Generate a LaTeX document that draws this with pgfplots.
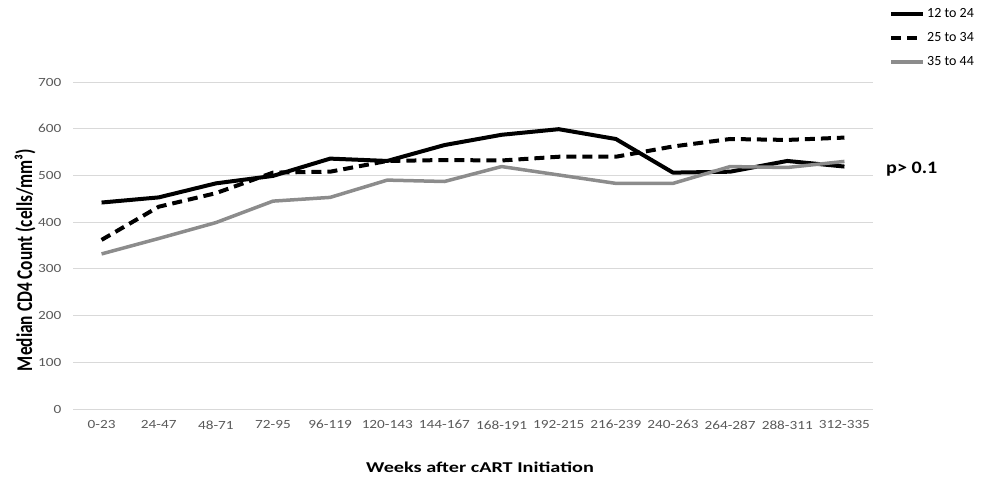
\documentclass[border=0pt]{standalone}
\usepackage{fontspec}
\setmainfont{Carlito}
\usepackage{graphicx}
\usepackage{pgfplots}
\pgfplotsset{compat=1.18}
\definecolor{tickgray}{HTML}{595959}
\definecolor{gridgray}{HTML}{D9D9D9}
\definecolor{linegray}{HTML}{8C8C8C}
\begin{document}
\begin{tikzpicture}[x=1pt,y=1pt]
\path[use as bounding box] (0,0) rectangle (984,477);
\begin{axis}[
  at={(73pt,68pt)}, anchor=south west,
  scale only axis, width=800pt, height=327pt,
  xmin=-0.5, xmax=13.5, ymin=0, ymax=700,
  xtick={0,...,13},
  xticklabels={0-23,24-47,48-71,72-95,96-119,120-143,144-167,168-191,192-215,216-239,240-263,264-287,288-311,312-335},
  ytick={0,100,...,700},
  axis line style={draw=none},
  major tick length=0pt,
  ymajorgrids, grid style={gridgray, line width=1pt},
  /pgf/number format/assume math mode=true,
  tick label style={font=\fontsize{12.5}{14}\selectfont, text=tickgray, xscale=1.22},
  xticklabel style={yshift=-8pt},
  yticklabel style={xshift=-6pt},
  xlabel={\bfseries Weeks after cART Initiation},
  xlabel style={at={(axis description cs:0.5,0)}, anchor=center, yshift=-58pt, xshift=7pt, font=\fontsize{15}{17}\selectfont, xscale=1.35},
  legend style={draw=none, fill=none, inner sep=0pt, at={(axis description cs:1.02,1.232)}, anchor=north west,
    font=\fontsize{14}{16}\selectfont, row sep=9.5pt, cells={anchor=west}},
  legend cell align=left,
  legend image code/.code={\draw[#1] (0pt,0pt) -- (32pt,0pt);},
  every axis plot/.append style={line join=round},
]
\addplot[black, line width=4pt] coordinates {
(0,442) (1,453) (2,483) (3,499) (4,536) (5,531) (6,565) (7,587) (8,599) (9,578) (10,506) (11,508) (12,531) (13,519)};
\addlegendentry{12 to 24}
\addplot[black, line width=4pt, dash pattern=on 10pt off 6pt] coordinates {
(0,362) (1,433) (2,462) (3,506) (4,508) (5,531) (6,533) (7,532) (8,540) (9,540) (10,562) (11,578) (12,576) (13,581)};
\addlegendentry{25 to 34}
\addplot[linegray, line width=3.5pt] coordinates {
(0,332) (1,365) (2,399) (3,445) (4,453) (5,490) (6,487) (7,519) (8,501) (9,483) (10,483) (11,519) (12,517) (13,530)};
\addlegendentry{35 to 44}
\end{axis}
\node[rotate=90, anchor=center, inner sep=0pt, font=\bfseries\fontsize{17.3}{19}\selectfont] at (25,217) {\scalebox{1}[1.3]{Median CD4 Count (cells/mm³)}};
\node[anchor=west, font=\bfseries\fontsize{17.5}{19}\selectfont, xscale=1.15, inner sep=0pt] at (886,308) {p> 0.1};
\end{tikzpicture}
\end{document}
